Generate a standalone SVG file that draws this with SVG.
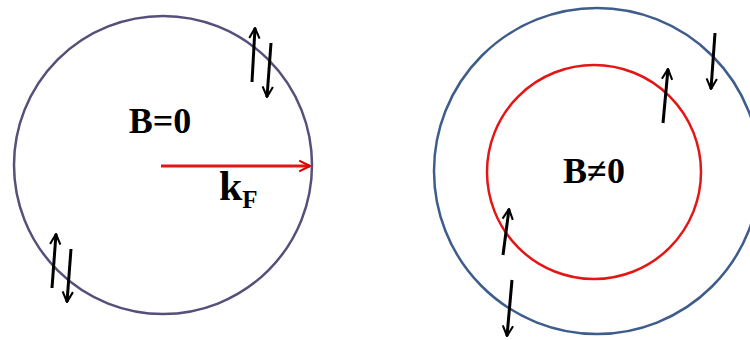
<svg xmlns="http://www.w3.org/2000/svg" width="750" height="340" viewBox="0 0 750 340">
<defs>
<marker id="ah" viewBox="0 0 10 10" refX="9" refY="5" markerWidth="4.3" markerHeight="4.3" orient="auto" markerUnits="strokeWidth">
<path d="M1,1 L9,5 L1,9" fill="none" stroke="#000" stroke-width="1.6"/>
</marker>
<marker id="ahr" viewBox="0 0 10 10" refX="9" refY="5" markerWidth="4.5" markerHeight="4.5" orient="auto" markerUnits="strokeWidth">
<path d="M1,1 L9,5 L1,9" fill="none" stroke="#e00000" stroke-width="1.6"/>
</marker>
<style>
.spin{stroke:#000;stroke-width:3;fill:none;marker-end:url(#ah)}
.lbl{font-family:"Liberation Serif","Times New Roman",serif;font-weight:bold;fill:#000}
</style>
</defs>
<rect width="750" height="340" fill="#fff"/>
<g id="fermi-left">
<circle cx="163" cy="165" r="149" fill="none" stroke="#55507a" stroke-width="2.5"/>
</g>
<g id="fermi-outer">
<circle cx="597" cy="171" r="163" fill="none" stroke="#3e5d8c" stroke-width="2.5"/>
</g>
<g id="fermi-inner">
<circle cx="594" cy="172" r="107" fill="none" stroke="#e51515" stroke-width="2.5"/>
</g>
<g id="labels">
<text class="lbl" x="160" y="133" font-size="36" text-anchor="middle">B=0</text>
<text class="lbl" x="594" y="183" font-size="36" text-anchor="middle">B≠0</text>
<text class="lbl" x="219" y="200" font-size="42">k<tspan font-size="25" dy="8">F</tspan></text>
</g>
<g id="connectors">
<line x1="161" y1="166" x2="310" y2="166" stroke="#e51515" stroke-width="3" marker-end="url(#ahr)"/>
<line class="spin" x1="252" y1="82" x2="255" y2="28"/>
<line class="spin" x1="271" y1="43" x2="267" y2="97"/>
<line class="spin" x1="52" y1="288" x2="56" y2="234"/>
<line class="spin" x1="71" y1="249" x2="67" y2="302"/>
<line class="spin" x1="663" y1="123" x2="668" y2="69"/>
<line class="spin" x1="715" y1="33" x2="711" y2="89"/>
<line class="spin" x1="503" y1="255" x2="509" y2="209"/>
<line class="spin" x1="512" y1="280" x2="507" y2="336"/>
</g>
</svg>
